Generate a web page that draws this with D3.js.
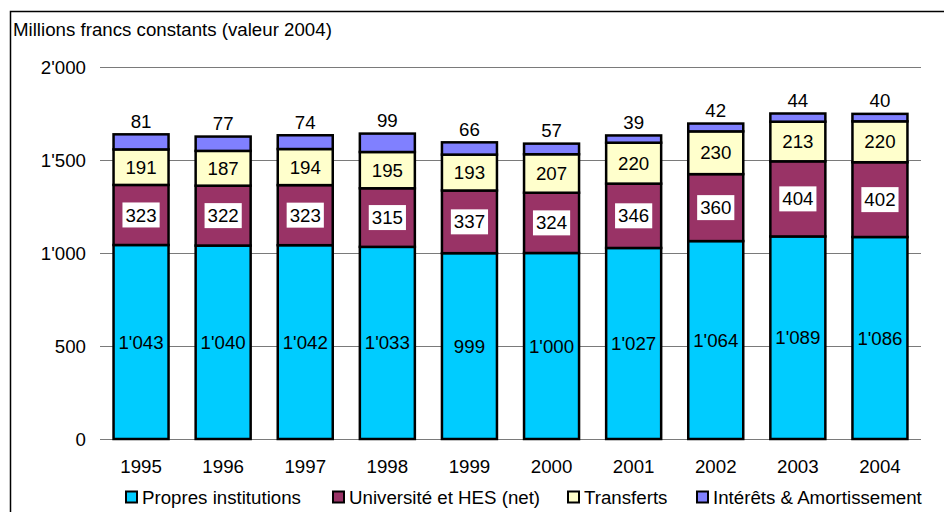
<!DOCTYPE html>
<html>
<head>
<meta charset="utf-8">
<script src="https://cdn.jsdelivr.net/npm/d3@7"></script>
<style>
  body { margin: 0; background: #fff; }
  svg text { font-family: "Liberation Sans", Arial, sans-serif; font-size: 18.7px; fill: #000; }
</style>
</head>
<body>
<div id="display"></div>
<script>
var width = 944,
    height = 512;

// donnees
var years = ["1995", "1996", "1997", "1998", "1999", "2000", "2001", "2002", "2003", "2004"];
var propres = [1043, 1040, 1042, 1033, 999, 1000, 1027, 1064, 1089, 1086];
var universite = [323, 322, 323, 315, 337, 324, 346, 360, 404, 402];
var transferts = [191, 187, 194, 195, 193, 207, 220, 230, 213, 220];
var interets = [81, 77, 74, 99, 66, 57, 39, 42, 44, 40];
var yTicks = [0, 500, 1000, 1500, 2000];
var seriesNames = ["Propres institutions", "Université et HES (net)", "Transferts", "Intérêts & Amortissement"];
var seriesKeys = ["propres", "universite", "transferts", "interets"];
var colors = ["#00CCFF", "#993366", "#FFFFCC", "#8080FF"];

var table = years.map(function (y, i) {
    return { year: y, propres: propres[i], universite: universite[i], transferts: transferts[i], interets: interets[i] };
});

var fmt = d3.formatLocale({ decimal: ".", thousands: "'", grouping: [3], currency: ["", ""] }).format(",d");

var svg = d3.select("#display")
    .append("svg")
    .attr("width", width)
    .attr("height", height);

// cadre
svg.append("rect")
    .attr("x", 10.5).attr("y", 11.5)
    .attr("width", 1000).attr("height", 600)
    .attr("fill", "none").attr("stroke", "#000").attr("stroke-width", 1.5);

svg.append("text")
    .attr("x", 13).attr("y", 36)
    .text("Millions francs constants (valeur 2004)");

var x = d3.scaleBand().domain(years).range([100, 921]).paddingInner(0.33).paddingOuter(0.165);
var y = d3.scaleLinear().domain([0, 2000]).range([439, 67]);

// grille
svg.selectAll(".grid")
    .data(yTicks)
    .enter().append("line")
    .attr("x1", 100).attr("x2", 921)
    .attr("y1", d => Math.round(y(d)) + 0.5).attr("y2", d => Math.round(y(d)) + 0.5)
    .attr("stroke", "#7a7a7a").attr("stroke-width", 1.2);

svg.selectAll(".ytick")
    .data(yTicks)
    .enter().append("text")
    .attr("x", 86).attr("y", d => y(d))
    .attr("dy", "0.35em")
    .attr("text-anchor", "end")
    .text(d => fmt(d));

svg.selectAll(".xtick")
    .data(years)
    .enter().append("text")
    .attr("x", d => x(d) + x.bandwidth() / 2).attr("y", 466)
    .attr("dy", "0.35em")
    .attr("text-anchor", "middle")
    .text(d => d);

var stack = d3.stack().keys(seriesKeys)(table);

var layers = svg.selectAll(".layer")
    .data(stack)
    .enter().append("g")
    .attr("fill", (d, i) => colors[i]);

layers.selectAll("rect")
    .data(d => d)
    .enter().append("rect")
    .attr("x", d => x(d.data.year))
    .attr("width", x.bandwidth())
    .attr("y", d => y(d[1]))
    .attr("height", d => y(d[0]) - y(d[1]))
    .attr("stroke", "#000").attr("stroke-width", 2.5);

// etiquettes
stack.forEach(function (layer, k) {
    layer.forEach(function (d) {
        var cx = x(d.data.year) + x.bandwidth() / 2;
        var cy = k == 3 ? y(d[1]) - 13 : y((d[0] + d[1]) / 2);
        var g = svg.append("g");
        var t = g.append("text")
            .attr("x", cx).attr("y", cy)
            .attr("dy", "0.35em")
            .attr("text-anchor", "middle")
            .text(fmt(d.data[seriesKeys[k]]));
        if (k == 1) {
            var b = t.node().getBBox();
            g.insert("rect", "text")
                .attr("x", b.x - 3).attr("y", cy - 12.5)
                .attr("width", b.width + 6).attr("height", 25)
                .attr("fill", "#fff");
        }
    });
});

// legende
var legendX = [125, 332, 567, 696];
var legend = svg.selectAll(".legend")
    .data(seriesNames)
    .enter().append("g")
    .attr("transform", (d, i) => "translate(" + legendX[i] + ",497)");

legend.append("rect")
    .attr("x", 1).attr("y", -5.5)
    .attr("width", 11).attr("height", 11)
    .attr("fill", (d, i) => colors[i])
    .attr("stroke", "#000").attr("stroke-width", 2);

legend.append("text")
    .attr("x", 17).attr("y", 0)
    .attr("dy", "0.35em")
    .text(d => d);
</script>
</body>
</html>
